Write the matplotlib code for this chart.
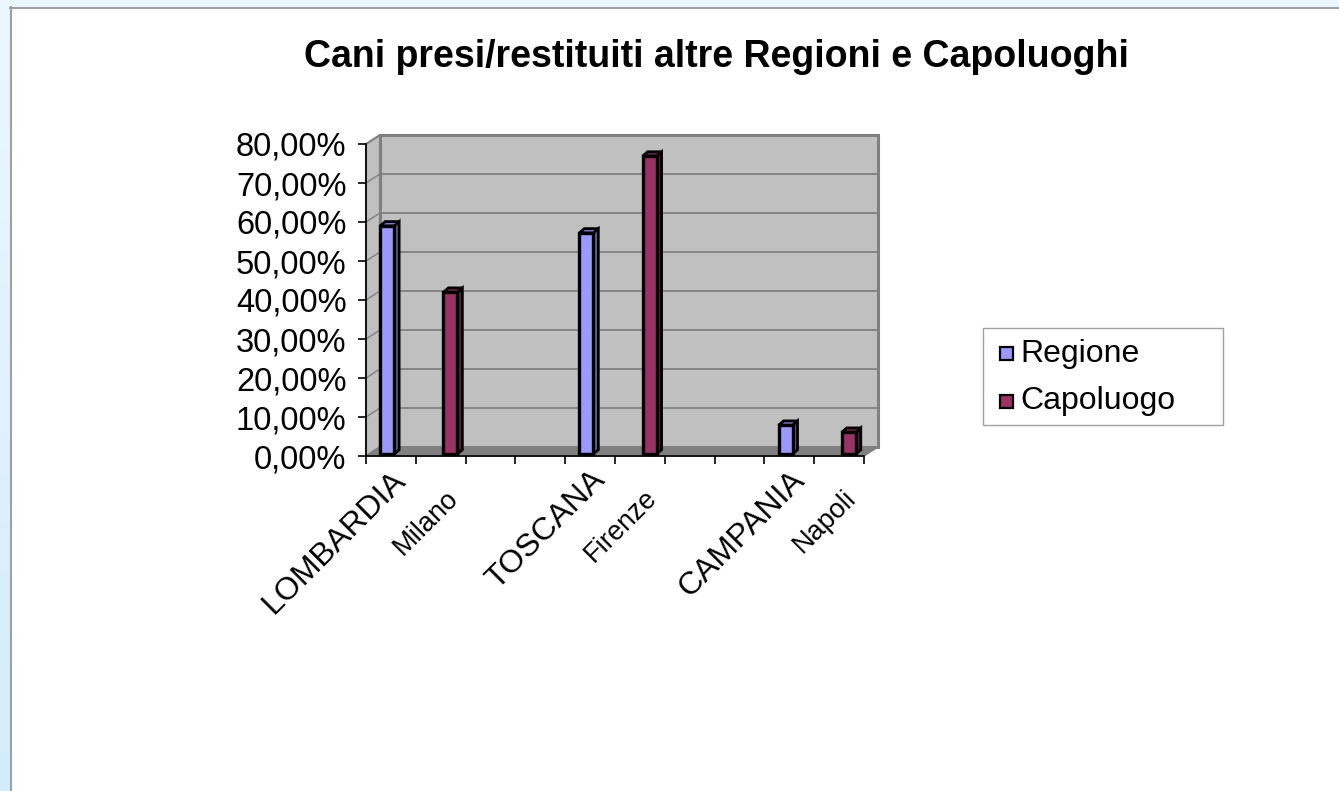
import numpy as np
import matplotlib
matplotlib.use("Agg")
import matplotlib.pyplot as plt
from matplotlib.patches import Polygon, Rectangle
from matplotlib.transforms import offset_copy

plt.rcParams["font.family"] = ["Liberation Sans", "DejaVu Sans"]

# Chart data
categories = ["LOMBARDIA", "Milano", "", "", "TOSCANA", "Firenze", "", "", "CAMPANIA", "Napoli"]
region_idx = [0, 4, 8]
region_vals = [0.585, 0.567, 0.074]
city_idx = [1, 5, 9]
city_vals = [0.415, 0.764, 0.056]
y_ticks = [0.0, 0.1, 0.2, 0.3, 0.4, 0.5, 0.6, 0.7, 0.8]
series_names = ["Regione", "Capoluogo"]
series_colors = ["#9999FF", "#993366"]

W, H = 1339, 791
fig = plt.figure(figsize=(W / 100, H / 100), dpi=100, facecolor="white")


def px(x, y):
    # pixel position (from top-left) -> figure fraction
    return x / W, 1 - y / H


# light blue window frame (left strip with gradient + top strip)
bg = fig.add_axes([0, 0, 10 / W, 1])
grad = np.linspace(0, 1, 100).reshape(-1, 1)
cmap = matplotlib.colors.LinearSegmentedColormap.from_list("fr", ["#ECF7FE", "#D3ECFB"])
bg.imshow(grad, aspect="auto", cmap=cmap, extent=[0, 1, 0, 1], origin="upper")
bg.set_axis_off()
fig.add_artist(Rectangle((0, 1 - 7 / H), 1, 7 / H, transform=fig.transFigure,
                         facecolor="#EAF6FD", edgecolor="none"))
fig.add_artist(plt.Line2D([10.5 / W, 10.5 / W], [0, 1 - 7 / H], transform=fig.transFigure,
                          color="#A0A0A0", lw=1.5))
fig.add_artist(plt.Line2D([10 / W, 1], [1 - 7.5 / H, 1 - 7.5 / H], transform=fig.transFigure,
                          color="#A0A0A0", lw=1.5))

fig.text(*px(716, 57), "Cani presi/restituiti altre Regioni e Capoluoghi",
         ha="center", va="center", fontsize=27, fontweight="bold")

# main axes: front plane of the 3D box
ax = fig.add_axes([366 / W, 1 - 456 / H, 498 / W, 312 / H])
ax.set_xlim(0, len(categories))
ax.set_ylim(0, 0.8)
ax.patch.set_visible(False)

dx, dy = 0.28, 0.023  # depth of the box in data units
grey = "#808080"

# side wall, back wall, floor
ax.add_patch(Polygon([(0, 0), (dx, dy), (dx, 0.8 + dy), (0, 0.8)], closed=True,
                     facecolor="#C0C0C0", edgecolor=grey, lw=1.5, clip_on=False, zorder=0))
ax.add_patch(Rectangle((dx, dy), len(categories), 0.8, facecolor="#C0C0C0",
                       edgecolor=grey, lw=2.2, clip_on=False, zorder=0))
ax.add_patch(Polygon([(0, 0), (len(categories), 0), (len(categories) + dx, dy), (dx, dy)],
                     closed=True, facecolor=grey, edgecolor=grey, lw=1, clip_on=False, zorder=1))
for v in y_ticks[1:-1]:
    ax.plot([dx, len(categories) + dx], [v + dy, v + dy], color=grey, lw=1.3,
            clip_on=False, zorder=0.5)
    ax.plot([0, dx], [v, v + dy], color=grey, lw=1.0, clip_on=False, zorder=0.5)

# 3D-looking bars
bar_w = 0.28
fx, fy = 0.06, 0.005      # front face offset from front plane
sx, sy = 0.10, 0.011      # bar depth


def draw_bars(idx, vals, off, face, side, top):
    xs = np.array(idx) + 0.5 + off + fx - bar_w / 2
    ax.bar(xs, vals, width=bar_w, bottom=fy, align="edge", color=face,
           edgecolor="black", lw=2.4, zorder=3, clip_on=False)
    for x0, v in zip(xs, vals):
        x1 = x0 + bar_w
        ytop = v + fy
        ax.add_patch(Polygon([(x1, fy), (x1 + sx, fy + sy), (x1 + sx, ytop + sy), (x1, ytop)],
                             closed=True, facecolor=side, edgecolor="black", lw=2,
                             zorder=2.9, clip_on=False))
        ax.add_patch(Polygon([(x0, ytop), (x1, ytop), (x1 + sx, ytop + sy), (x0 + sx, ytop + sy)],
                             closed=True, facecolor=top, edgecolor="black", lw=2,
                             zorder=2.9, clip_on=False))


draw_bars(region_idx, region_vals, -0.135, series_colors[0], "#66669A", "#7B7BD0")
draw_bars(city_idx, city_vals, 0.135, series_colors[1], "#5E2040", "#7A2852")

# axes decoration
for s in ["top", "right"]:
    ax.spines[s].set_visible(False)
for s in ["left", "bottom"]:
    ax.spines[s].set_color("black")
    ax.spines[s].set_linewidth(1.2)
    ax.spines[s].set_zorder(4)

ax.set_yticks(y_ticks)
ax.set_yticklabels([f"{v * 100:.2f}%".replace(".", ",") for v in y_ticks], fontsize=23.5)
ax.tick_params(axis="y", length=6, width=1.2, pad=8)

ax.set_xticks(range(len(categories) + 1))
ax.set_xticklabels([])
ax.tick_params(axis="x", length=6, width=1.2)

# category labels rotated 45 degrees
for i, name in enumerate(categories):
    if not name:
        continue
    is_region = name.isupper()
    size = 23 if is_region else 19.5
    ydown = 9 if is_region else 29
    xshift = 0.0 if is_region else 0.08
    tr = offset_copy(ax.get_xaxis_transform(), fig=fig, y=-ydown, units="dots")
    ax.text(i + 0.5 + xshift, 0, name, transform=tr, rotation=45, rotation_mode="anchor",
            ha="right", va="top", fontsize=size)

# legend box
fig.add_artist(Rectangle(px(983, 425), 240 / W, 97 / H, transform=fig.transFigure,
                         facecolor="white", edgecolor="#A0A0A0", lw=1))
for k, (name, col) in enumerate(zip(series_names, series_colors)):
    yc = 354 + 47 * k
    fig.add_artist(Rectangle(px(1000, yc + 6.5), 13 / W, 13 / H, transform=fig.transFigure,
                             facecolor=col, edgecolor="black", lw=1.6))
    fig.text(*px(1020, yc), name, ha="left", va="center", fontsize=23)

fig.savefig("out.png", dpi=100, facecolor="white")
